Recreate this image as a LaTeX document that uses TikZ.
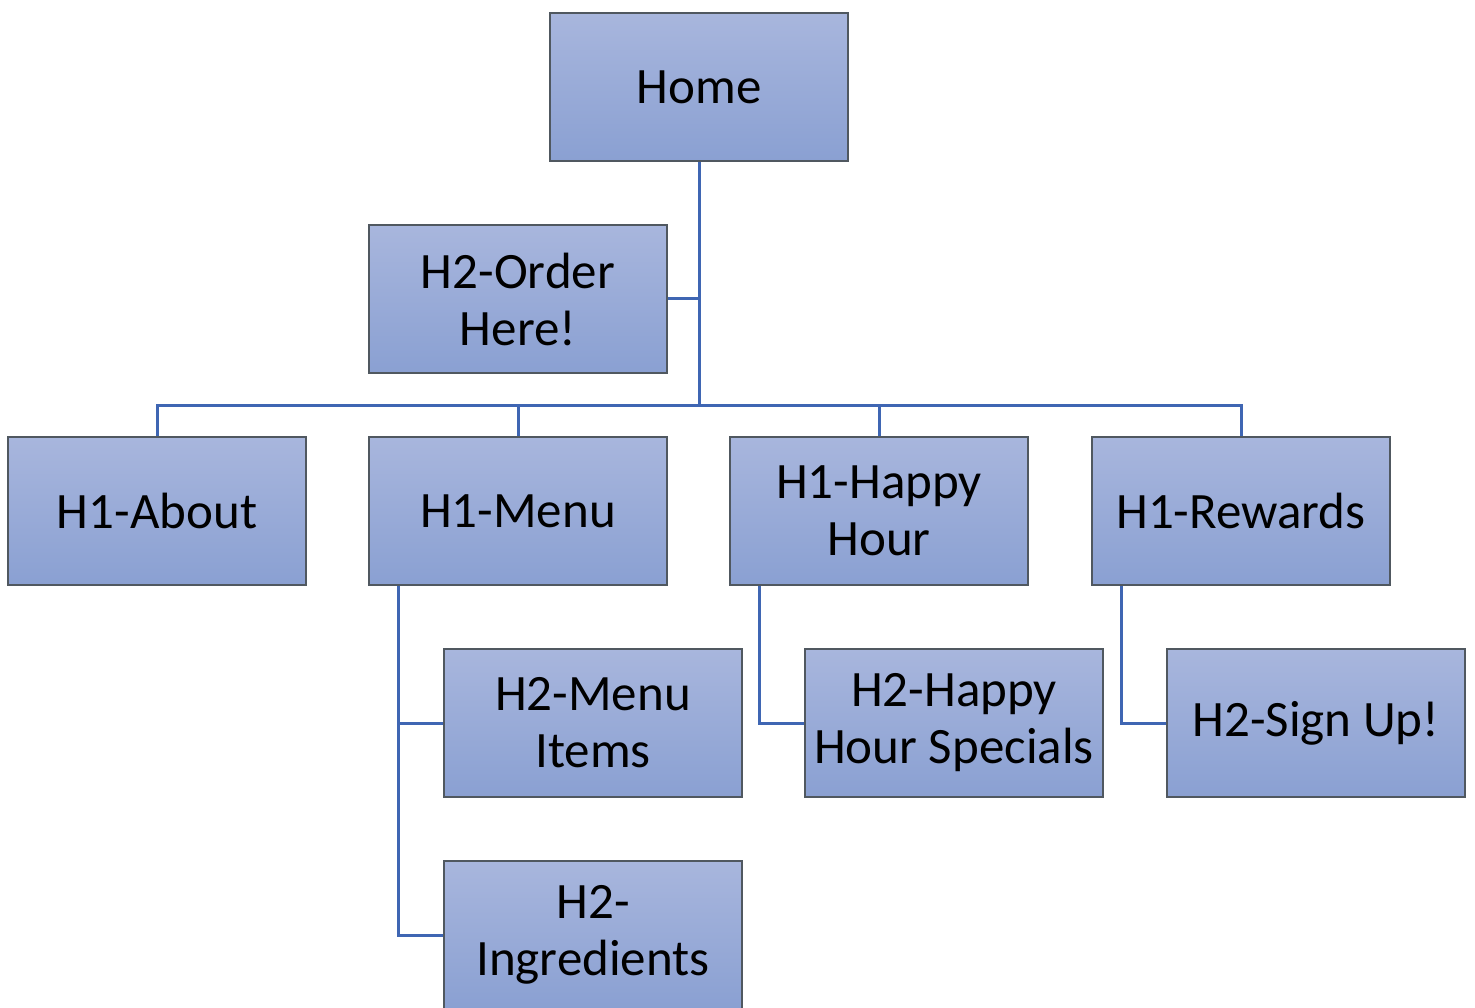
\documentclass[tikz,border=0pt]{standalone}
\usepackage{fontspec}
\setmainfont{Carlito}
\definecolor{boxtop}{HTML}{A8B6DD}
\definecolor{boxbot}{HTML}{8AA0D2}
\definecolor{boxline}{HTML}{505860}
\definecolor{conn}{HTML}{3F66B3}
\tikzset{
  pagebox/.style={draw=boxline, line width=1.2pt, top color=boxtop, bottom color=boxbot,
    minimum width=298pt, minimum height=148pt, inner sep=0pt, align=center,
    font=\fontsize{51}{57}\selectfont, text=black},
  link/.style={draw=conn, line width=3pt}
}
\begin{document}
\begin{tikzpicture}[x=1pt,y=-1pt]
\useasboundingbox (0,0) rectangle (1475,1008);
\begin{scope}
\clip (0,0) rectangle (1475,1008);
\node[pagebox] (home) at (699,87) {Home};
\node[pagebox] (order) at (518,299) {H2-Order\\Here!};
\node[pagebox] (about) at (157,511) {H1-About};
\node[pagebox] (menu) at (518,511) {H1-Menu};
\node[pagebox] (happy) at (879,511) {H1-Happy\\Hour};
\node[pagebox] (rewards) at (1241,511) {H1-Rewards};
\node[pagebox] (items) at (593,723) {H2-Menu\\Items};
\node[pagebox] (specials) at (954,723) {H2-Happy\\Hour Specials};
\node[pagebox] (signup) at (1316,723) {H2-Sign Up!};
\node[pagebox] (ingr) at (593,935) {H2-\\Ingredients};
\coordinate (bus) at (699,405);
\draw[link] (home.south) -- (bus);
\draw[link] (order.east) -- (order.east -| home.south);
\draw[link] (about.north) |- (bus) -| (rewards.north);
\draw[link] (menu.north) -- (menu.north |- bus);
\draw[link] (happy.north) -- (happy.north |- bus);
\draw[link] ([xshift=30pt]menu.south west) |- (items.west);
\draw[link] ([xshift=30pt]menu.south west) |- (ingr.west);
\draw[link] ([xshift=30pt]happy.south west) |- (specials.west);
\draw[link] ([xshift=30pt]rewards.south west) |- (signup.west);
\end{scope}
\end{tikzpicture}
\end{document}
